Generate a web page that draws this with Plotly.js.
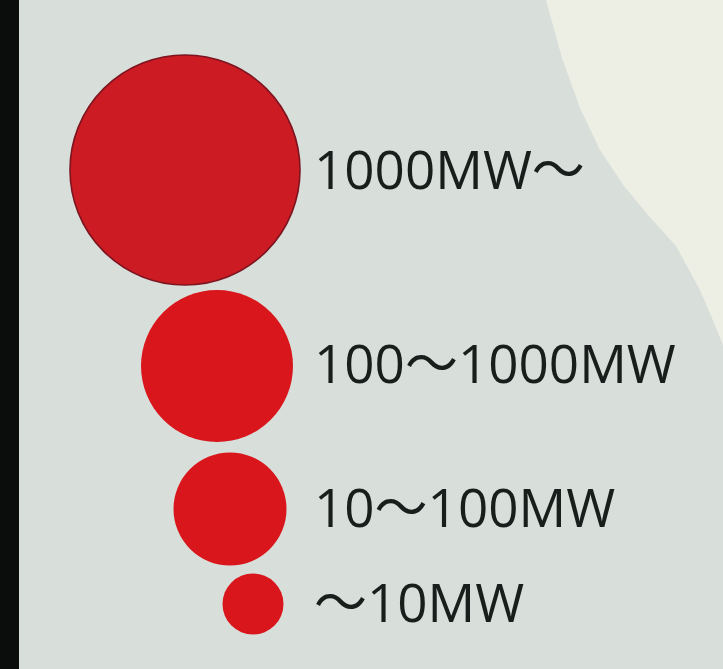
<!DOCTYPE html>
<html>
<head>
<meta charset="utf-8">
<script src="https://cdn.plot.ly/plotly-3.0.1.min.js"></script>
<style>html,body{margin:0;padding:0;background:#d8dfda;}#chart{width:723px;height:669px;}</style>
</head>
<body>
<div id="chart"></div>
<script>
// Legend categories (power capacity classes)
const categories = ["1000MW～", "100～1000MW", "10～100MW", "～10MW"];
// Symbol diameters (px) shown for each class
const symbolDiameters = [230, 152, 113, 61];
// Symbol centre positions (axis units = pixels of the 723x669 canvas)
const symbolX = [185, 217, 230, 253];
const symbolY = [170, 366, 509, 604];
// Label anchor positions
const labelX = [314, 314, 314, 314];
const labelY = [176, 370, 514, 609];

const fillColors = ["#cd1b23", "#d8161c", "#d8161c", "#d8161c"];
const lineColors = ["#7d1420", "#d8161c", "#d8161c", "#d8161c"];
const lineWidths = [1.6, 0, 0, 0];

const traces = [
  {
    type: "scatter", mode: "markers",
    x: symbolX, y: symbolY,
    marker: { size: symbolDiameters, color: fillColors, opacity: 1,
              line: { color: lineColors, width: lineWidths } },
    hoverinfo: "skip", showlegend: false
  },
  {
    type: "scatter", mode: "text",
    x: labelX, y: labelY, text: categories,
    textposition: "middle right",
    textfont: { family: "Open Sans, Noto Sans CJK JP, sans-serif", size: 53, color: "#191d1c" },
    hoverinfo: "skip", showlegend: false
  }
];

const layout = {
  width: 723, height: 669,
  margin: { l: 0, r: 0, t: 0, b: 0 },
  paper_bgcolor: "#d8dfda", plot_bgcolor: "#d8dfda",
  xaxis: { range: [0, 723], visible: false, fixedrange: true },
  yaxis: { range: [669, 0], visible: false, fixedrange: true },
  shapes: [
    { type: "path", xref: "x", yref: "y", layer: "below",
      path: "M 546 0 L 723 0 L 723 345 L 712 318 L 700 290 L 676 246 L 648 215 L 624 186 L 600 150 L 580 108 L 562 58 Z",
      fillcolor: "#edefe5", line: { width: 0 } },
    { type: "rect", xref: "x", yref: "y", layer: "above",
      x0: 0, x1: 19, y0: 0, y1: 669, fillcolor: "#0b0d0d", line: { width: 0 } }
  ]
};

Plotly.newPlot("chart", traces, layout, { displayModeBar: false, staticPlot: true });
</script>
</body>
</html>
